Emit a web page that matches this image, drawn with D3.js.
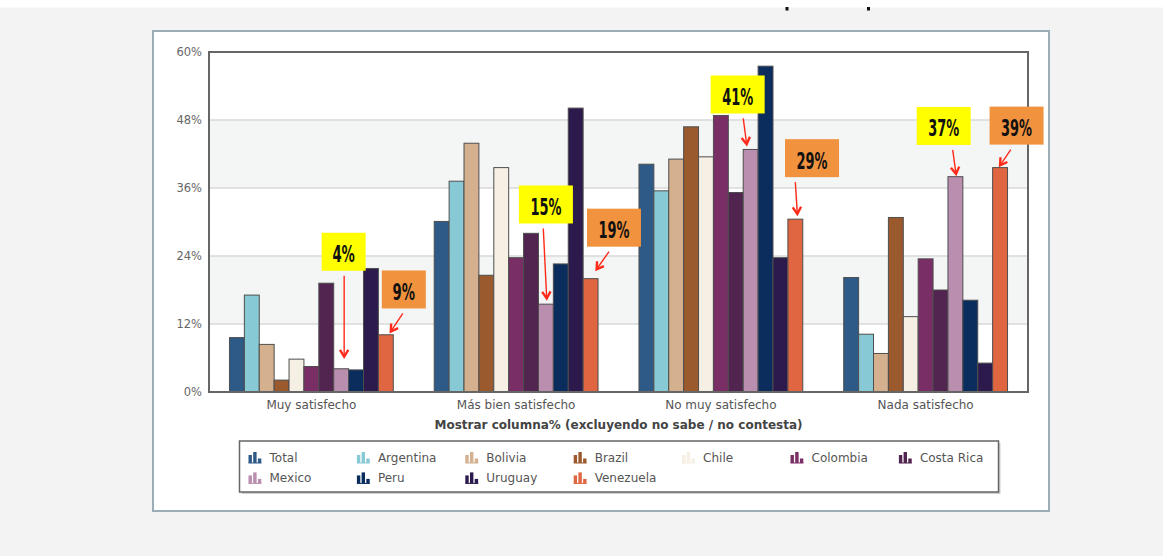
<!DOCTYPE html>
<html><head><meta charset="utf-8">
<script src="https://cdn.jsdelivr.net/npm/d3@7"></script>
<style>
html,body{margin:0;padding:0;background:#f3f3f3;}
svg{display:block;}
</style></head>
<body>
<svg id="chart" width="1163" height="556"></svg>
<script>
// ---- data ----
const categories = ["Muy satisfecho", "Más bien satisfecho", "No muy satisfecho", "Nada satisfecho"];
const seriesNames = ["Total","Argentina","Bolivia","Brazil","Chile","Colombia","Costa Rica","Mexico","Peru","Uruguay","Venezuela"];
const total      = [9.6, 30.1, 40.2, 20.2];
const argentina  = [17.1, 37.2, 35.5, 10.2];
const bolivia    = [8.4, 43.9, 41.1, 6.8];
const brazil     = [2.1, 20.6, 46.8, 30.8];
const chile      = [5.8, 39.6, 41.5, 13.3];
const colombia   = [4.5, 23.7, 48.8, 23.5];
const costaRica  = [19.2, 28.0, 35.2, 18.0];
const mexico     = [4.1, 15.5, 42.8, 38.0];
const peru       = [3.9, 22.6, 57.5, 16.2];
const uruguay    = [21.8, 50.1, 23.7, 5.1];
const venezuela  = [10.1, 20.0, 30.5, 39.6];
const yTicks = [0, 12, 24, 36, 48, 60];
const xAxisTitle = "Mostrar columna% (excluyendo no sabe / no contesta)";
const annotations = [
  {cat: 0, series: "Mexico",    label: "4%"},
  {cat: 0, series: "Venezuela", label: "9%"},
  {cat: 1, series: "Mexico",    label: "15%"},
  {cat: 1, series: "Venezuela", label: "19%"},
  {cat: 2, series: "Mexico",    label: "41%"},
  {cat: 2, series: "Venezuela", label: "29%"},
  {cat: 3, series: "Mexico",    label: "37%"},
  {cat: 3, series: "Venezuela", label: "39%"}
];

// ---- styles / layout ----
const seriesValues = [total, argentina, bolivia, brazil, chile, colombia, costaRica, mexico, peru, uruguay, venezuela];
const colors = ["#2e5a87","#88c9d6","#d4b08f","#9b5a2d","#f6efe4","#7a2e66","#522450","#b98eaf","#0b2d5e","#2d1a4d","#e06642"];
const annoStyle = {Mexico: "#ffff00", Venezuela: "#f0923e"};
const annoLayout = [
  {dx: 2.5,  dyB: -98,  sx: 3,    ex: 3,   gap: 12},
  {dx: 18,   dyB: -26.3,sx: 17,   ex: 5,   gap: 3.3},
  {dx: 0,    dyB: -80.7,sx: -2.6, ex: 0.8, gap: 5.7},
  {dx: 23.4, dyB: -32,  sx: 18.4, ex: 6,   gap: 9.4},
  {dx: -13,  dyB: -36,  sx: -7.4, ex: -4,  gap: 5.3},
  {dx: 16.7, dyB: -42,  sx: 0,    ex: 2,   gap: 5.3},
  {dx: -11.7,dyB: -31.7,sx: -2.7, ex: 0.6, gap: 2.7},
  {dx: 16.5, dyB: -23,  sx: 10.7, ex: 0,   gap: 2.3}
];

const svg = d3.select("#chart");
const W = 1163, H = 556;
const plot = {left: 209, right: 1028, top: 52, bottom: 392};

svg.append("rect").attr("x",0).attr("y",0).attr("width",W).attr("height",H).attr("fill","#f3f3f3");
svg.append("rect").attr("x",0).attr("y",0).attr("width",W).attr("height",7.5).attr("fill","#ffffff");
svg.append("rect").attr("x",785.5).attr("y",7).attr("width",3).attr("height",3.5).attr("fill","#111");
svg.append("rect").attr("x",867).attr("y",7).attr("width",3).attr("height",3.5).attr("fill","#111");

svg.append("rect").attr("x",153).attr("y",31).attr("width",896).attr("height",480)
  .attr("fill","#ffffff").attr("stroke","#9cadb8").attr("stroke-width",2);

const x0 = d3.scaleBand().domain(categories).range([plot.left, plot.right]).paddingInner(0.2).paddingOuter(0.1);
const x1 = d3.scaleBand().domain(seriesNames).range([0, x0.bandwidth()]).padding(0);
const y = d3.scaleLinear().domain([0, 60]).range([plot.bottom, plot.top]);

const bandG = svg.append("g");
for (let i = 0; i < yTicks.length - 1; i++) {
  bandG.append("rect")
    .attr("x", plot.left).attr("width", plot.right - plot.left)
    .attr("y", y(yTicks[i+1])).attr("height", y(yTicks[i]) - y(yTicks[i+1]))
    .attr("fill", i % 2 === 1 ? "#f4f6f5" : "#ffffff");
}
svg.append("g").selectAll("line").data(yTicks.slice(1, -1)).join("line")
  .attr("x1", plot.left).attr("x2", plot.right)
  .attr("y1", d => y(d)).attr("y2", d => y(d))
  .attr("stroke", "#d8d8d8").attr("stroke-width", 1.5);

const yAxis = d3.axisLeft(y).tickValues(yTicks).tickFormat(d => d + "%").tickSize(0).tickPadding(7);
const yg = svg.append("g").attr("transform", `translate(${plot.left},0)`).call(yAxis);
yg.select(".domain").remove();
yg.selectAll("text").attr("fill","#666").style("font-family","'DejaVu Sans', Verdana, sans-serif").style("font-size","11.5px");

const rows = [];
categories.forEach((c, ci) => seriesNames.forEach((s, si) => rows.push({cat: c, ci, series: s, si, value: seriesValues[si][ci]})));
svg.append("g").selectAll("rect").data(rows).join("rect")
  .attr("x", d => x0(d.cat) + x1(d.series))
  .attr("width", x1.bandwidth())
  .attr("y", d => y(d.value))
  .attr("height", d => y(0) - y(d.value))
  .attr("fill", d => colors[d.si])
  .attr("stroke", "#4e4e4e").attr("stroke-width", 1);

svg.append("rect").attr("x", plot.left).attr("y", plot.top)
  .attr("width", plot.right - plot.left).attr("height", plot.bottom - plot.top)
  .attr("fill","none").attr("stroke","#666").attr("stroke-width",2);

const xAxis = d3.axisBottom(x0).tickSize(0).tickPadding(8);
const xg = svg.append("g").attr("transform", `translate(0,${plot.bottom})`).call(xAxis);
xg.select(".domain").remove();
xg.selectAll("text").attr("fill","#555").style("font-family","'DejaVu Sans', Verdana, sans-serif").style("font-size","12px");

svg.append("text").attr("x", (plot.left + plot.right) / 2).attr("y", 428.5)
  .attr("text-anchor","middle").attr("fill","#444")
  .style("font-family","'DejaVu Sans', Verdana, sans-serif").style("font-size","12px").style("font-weight","bold")
  .text(xAxisTitle);

const lg = svg.append("g");
lg.append("rect").attr("x",241.5).attr("y",443).attr("width",759).attr("height",51).attr("fill","#cfcfcf");
lg.append("rect").attr("x",239.5).attr("y",441).attr("width",759).attr("height",51)
  .attr("fill","#fff").attr("stroke","#666").attr("stroke-width",1.5);
seriesNames.forEach((s, i) => {
  const col = i % 7, row = Math.floor(i / 7);
  const gx = 248.5 + col * 108.4, gy = 457.5 + row * 20.4;
  const g = lg.append("g").attr("transform", `translate(${gx},${gy})`);
  const icon = [[0, 8], [4.7, 11], [9.4, 4.5]];
  icon.forEach(([bx, bh]) => g.append("rect").attr("x", bx).attr("y", 5.5 - bh).attr("width", 3.4).attr("height", bh).attr("fill", colors[i]));
  g.append("rect").attr("x",0).attr("y",5).attr("width",13).attr("height",1).attr("fill",colors[i]);
  g.append("text").attr("x", 21).attr("y", 4.5).attr("fill","#555")
    .style("font-family","'DejaVu Sans', Verdana, sans-serif").style("font-size","12px").text(s);
});

const ag = svg.append("g");
function drawArrow(x1p, y1p, x2p, y2p) {
  ag.append("line").attr("x1",x1p).attr("y1",y1p).attr("x2",x2p).attr("y2",y2p)
    .attr("stroke","#ff2a1a").attr("stroke-width",1.4);
  const ang = Math.atan2(y2p - y1p, x2p - x1p), L = 8, spread = 0.55;
  const p1 = [x2p - L * Math.cos(ang - spread), y2p - L * Math.sin(ang - spread)];
  const p2 = [x2p - L * Math.cos(ang + spread), y2p - L * Math.sin(ang + spread)];
  ag.append("path").attr("d", `M${p1[0]},${p1[1]}L${x2p},${y2p}L${p2[0]},${p2[1]}`)
    .attr("fill","none").attr("stroke","#ff2a1a").attr("stroke-width",2.4).attr("stroke-linejoin","miter");
}
annotations.forEach((a, k) => {
  const lay = annoLayout[k];
  const si = seriesNames.indexOf(a.series);
  const cx = x0(categories[a.cat]) + x1(a.series) + x1.bandwidth() / 2;
  const top = y(seriesValues[si][a.cat]);
  const bw = a.label.length > 2 ? 54 : 44, bh = 38;
  const bBottom = top + lay.dyB;
  const bcx = cx + lay.dx;
  ag.append("rect").attr("x", bcx - bw / 2).attr("y", bBottom - bh).attr("width", bw).attr("height", bh)
    .attr("fill", annoStyle[a.series]);
  ag.append("text").attr("x", bcx).attr("y", bBottom - bh / 2 + 10.5)
    .attr("text-anchor","middle").attr("fill","#111")
    .attr("textLength", a.label.length > 2 ? 31 : 22.5).attr("lengthAdjust","spacingAndGlyphs")
    .style("font-family","'Liberation Sans Narrow', 'DejaVu Sans Condensed', sans-serif")
    .style("font-size","23px").style("font-weight","bold")
    .text(a.label);
  drawArrow(cx + lay.sx, bBottom + 5, cx + lay.ex, top - lay.gap);
});
</script>
</body></html>
